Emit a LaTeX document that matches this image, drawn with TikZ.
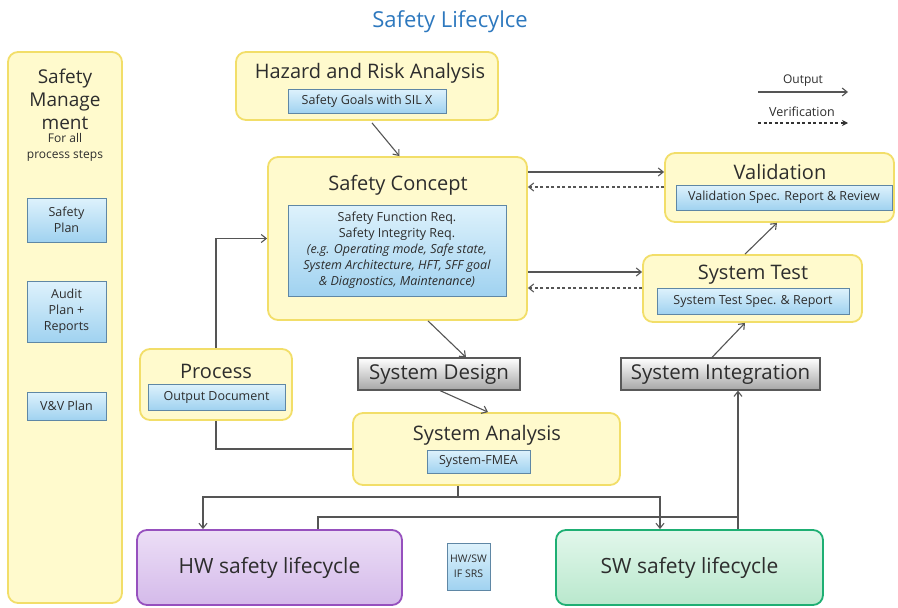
\documentclass[tikz,border=0pt]{standalone}
\usepackage{fontspec}
\setmainfont{Open Sans}
\usetikzlibrary{arrows.meta,calc}
\definecolor{yfill}{RGB}{255,250,205}
\definecolor{ybord}{RGB}{242,222,105}
\definecolor{itop}{RGB}{222,242,252}
\definecolor{ibot}{RGB}{160,210,240}
\definecolor{iborder}{RGB}{95,135,165}
\definecolor{txt}{RGB}{45,45,45}
\definecolor{ttlblue}{RGB}{45,120,190}
\definecolor{hwtop}{RGB}{236,222,246}
\definecolor{hwbot}{RGB}{212,186,234}
\definecolor{hwbord}{RGB}{150,80,190}
\definecolor{swtop}{RGB}{226,247,235}
\definecolor{swbot}{RGB}{185,232,205}
\definecolor{swbord}{RGB}{30,175,115}
\definecolor{lncol}{RGB}{85,85,85}
\tikzset{
  ybox/.style={draw=ybord, line width=1.8pt, fill=yfill, rounded corners=10pt, inner sep=0pt},
  ibox/.style={draw=iborder, line width=0.8pt, top color=itop, bottom color=ibot, text=txt, inner sep=0pt, align=center, font=\fontsize{12.5}{16}\selectfont},
  gbox/.style={draw=black!65, line width=1.2pt, top color=white, bottom color=black!35, text=txt, inner sep=0pt, font=\fontsize{20.5}{22}\selectfont},
  ttl/.style={text=txt, font=\fontsize{20}{22}\selectfont, inner sep=0pt},
  conn/.style={draw=lncol, line width=1.1pt, -{Straight Barb[length=5pt,width=8pt]}},
  verif/.style={draw=lncol, line width=1.1pt, dash pattern=on 3pt off 2.5pt, -{Straight Barb[length=5pt,width=8pt]}},
  plain/.style={draw=lncol, line width=1.1pt},
}
\begin{document}
\begin{tikzpicture}[x=1pt,y=-1pt]
\useasboundingbox (0,0) rectangle (898,608);

% title
\node[text=ttlblue, font=\fontsize{22}{24}\selectfont] (title) at (450,22) {Safety Lifecylce};

% Safety management column
\node[ybox, minimum width=114pt, minimum height=551pt] (sm) at (65,327.5) {};
\node[ttl, align=center, font=\fontsize{19}{23}\selectfont] (smt) at (65,99) {Safety\\Manage\\ment};
\node[text=txt, align=center, font=\fontsize{12}{16}\selectfont, inner sep=0pt] (smsub) at (65,147) {For all\\process steps};
\node[ibox, minimum width=79pt, minimum height=44pt] (sp) at (66.5,220) {Safety\\Plan};
\node[ibox, minimum width=79pt, minimum height=61pt] (ap) at (66.5,311.5) {Audit\\Plan +\\Reports};
\node[ibox, minimum width=79pt, minimum height=28pt] (vv) at (66.5,406) {V\&V Plan};

% Hazard and Risk Analysis
\node[ybox, minimum width=262pt, minimum height=68pt] (hz) at (367,86) {};
\node[ttl] (hzt) at (370,73) {Hazard and Risk Analysis};
\node[ibox, minimum width=158pt, minimum height=24pt] (sg) at (367,101) {Safety Goals with SIL X};

% Safety Concept
\node[ybox, minimum width=259pt, minimum height=163pt] (sc) at (397.5,238.5) {};
\node[ttl] (sct) at (398,185) {Safety Concept};
\node[ibox, minimum width=218pt, minimum height=91pt] (scr) at (397,250.5) {Safety Function Req.\\Safety Integrity Req.\\\textit{(e.g. Operating mode, Safe state,}\\\textit{System Architecture, HFT, SFF goal}\\\textit{\& Diagnostics, Maintenance)}};

% Validation
\node[ybox, minimum width=229pt, minimum height=69pt] (va) at (779.5,187.5) {};
\node[ttl] (vat) at (780,172) {Validation};
\node[ibox, minimum width=216pt, minimum height=25pt] (vas) at (784,197.5) {Validation Spec. Report \& Review};

% System Test
\node[ybox, minimum width=219pt, minimum height=67pt] (st) at (752.5,288.5) {};
\node[ttl] (stt) at (753,275) {System Test};
\node[ibox, minimum width=192pt, minimum height=26pt] (sts) at (753,301) {System Test Spec. \& Report};

% Process
\node[ybox, minimum width=152pt, minimum height=71pt] (pr) at (216,384.5) {};
\node[ttl] (prt) at (216,371) {Process};
\node[ibox, minimum width=137pt, minimum height=26pt] (prs) at (216.5,397) {Output Document};

% System Design / Integration
\node[gbox, minimum width=162pt, minimum height=32pt] (sd) at (439,374) {System Design};
\node[gbox, minimum width=199pt, minimum height=32pt] (si) at (720.5,374) {System Integration};

% System Analysis
\node[ybox, minimum width=267pt, minimum height=72pt] (sa) at (486.5,449) {};
\node[ttl] (sat) at (487,435) {System Analysis};
\node[ibox, minimum width=103pt, minimum height=23pt] (sas) at (478.5,461.5) {System-FMEA};

% HW / SW lifecycles
\node[draw=hwbord, line width=1.8pt, top color=hwtop, bottom color=hwbot, rounded corners=10pt, minimum width=265pt, minimum height=75pt, text=txt, font=\fontsize{21}{23}\selectfont] (hw) at (269.5,567.5) {HW safety lifecycle};
\node[ibox, minimum width=43pt, minimum height=47pt, font=\fontsize{10.5}{15}\selectfont] (ifs) at (468.5,566.5) {HW/SW\\IF SRS};
\node[draw=swbord, line width=1.8pt, top color=swtop, bottom color=swbot, rounded corners=10pt, minimum width=267pt, minimum height=75pt, text=txt, font=\fontsize{21}{23}\selectfont] (sw) at (689.5,567.5) {SW safety lifecycle};

% legend
\node[text=txt, font=\fontsize{12}{14}\selectfont, inner sep=0pt] (lo) at (803,81) {Output};
\coordinate (lo1) at (758,92);
\coordinate (lo2) at (848,92);
\draw[conn] (lo1) -- (lo2);
\node[text=txt, font=\fontsize{12.5}{14}\selectfont, inner sep=0pt] (lv) at (802,112) {Verification};
\coordinate (lv1) at (758,123);
\coordinate (lv2) at (848,123);
\draw[draw=black!80, line width=1.1pt, dash pattern=on 3pt off 2.5pt, -{Stealth[length=6pt,width=6pt]}] (lv1) -- (lv2);

% connectors
\draw[conn] ([xshift=5pt,yshift=-2pt]hz.south) -- ([xshift=2pt]sc.north);
\draw[conn] ([yshift=66.5pt]sc.east) -- ([yshift=15.5pt]va.west);
\draw[verif] ([yshift=0.5pt]va.west) -- ([yshift=51.5pt]sc.east);
\draw[conn] ([yshift=-33.5pt]sc.east) -- ([yshift=16.5pt]st.west);
\draw[verif] ([yshift=0.5pt]st.west) -- ([yshift=-49.5pt]sc.east);
\draw[conn] ([xshift=30.5pt]sc.south) -- ([xshift=27pt]sd.north);
\draw[conn] ([xshift=1pt]sd.south) -- ([xshift=1.5pt]sa.north);
\draw[conn] (pr.north) |- (sc.west);
\draw[plain] (pr.south) |- (sa.west);
\coordinate (bus) at (458,497);
\draw[plain] (bus |- sa.south) -- (bus);
\draw[conn] (bus) -| ([xshift=-66.5pt]hw.north);
\draw[conn] (bus) -| ([xshift=-29.5pt]sw.north);
\coordinate (bus2) at (738,517);
\draw[plain] ([xshift=48.5pt]hw.north) |- (bus2);
\draw[conn] ([xshift=48.5pt]sw.north) -- ([xshift=17.5pt]si.south);
\draw[conn] ([xshift=-8.5pt]si.north) -- ([xshift=-7.5pt]st.south);
\draw[conn] ([xshift=-7.5pt]st.north) -- ([xshift=-2.5pt]va.south);
\end{tikzpicture}
\end{document}
